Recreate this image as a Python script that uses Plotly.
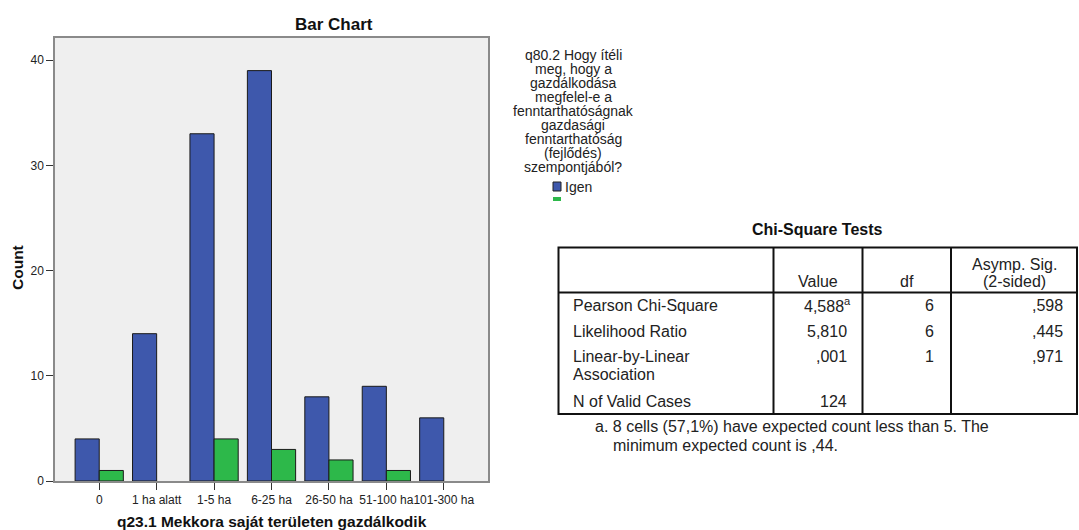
import plotly.graph_objects as go

W, H = 1079, 530

# bar chart data (counts per farm size, split by answer)
categories = ["0", "1 ha alatt", "1-5 ha", "6-25 ha", "26-50 ha", "51-100 ha", "101-300 ha"]
igen = [4, 14, 33, 39, 8, 9, 6]
nem = [1, 0, 4, 3, 2, 1, 0]
y_ticks = [0, 10, 20, 30, 40]

legend_title = ["q80.2 Hogy ítéli", "meg, hogy a", "gazdálkodása", "megfelel-e a",
                "fenntarthatóságnak", "gazdasági", "fenntarthatóság", "(fejlődés)",
                "szempontjából?"]

# chi-square table
table_title = "Chi-Square Tests"
col_headers = ["Value", "df", "Asymp. Sig.<br>(2-sided)"]
test_names = ["Pearson Chi-Square", "Likelihood Ratio", "Linear-by-Linear<br>Association", "N of Valid Cases"]
test_values = ["4,588<sup>a</sup>", "5,810", ",001", "124"]
test_df = ["6", "6", "1", ""]
test_sig = [",598", ",445", ",971", ""]
footnote = ["a. 8 cells (57,1%) have expected count less than 5. The",
            "minimum expected count is ,44."]

BLUE = "#3E58AC"
GREEN = "#2DB84A"
FONT = "Liberation Sans, Arial, sans-serif"


def px(x):
    return x / W


def py(y):
    return 1 - y / H


fig = go.Figure()
fig.add_trace(go.Bar(x=categories, y=igen, name="Igen",
                     marker=dict(color=BLUE, line=dict(color="#1a1a1a",
                                                       width=[1 if v else 0 for v in igen]))))
fig.add_trace(go.Bar(x=categories, y=nem, name="Nem",
                     marker=dict(color=GREEN, line=dict(color="#1a1a1a",
                                                        width=[1 if v else 0 for v in nem]))))

axis_style = dict(showline=True, mirror=True, linecolor="#8a8a8a", linewidth=1.5,
                  ticks="outside", ticklen=7, tickcolor="#333", showgrid=False,
                  zeroline=False, automargin=False, tickfont=dict(size=12, color="#222"))

fig.update_layout(
    width=W, height=H, autosize=False,
    margin=dict(l=0, r=0, t=0, b=0, pad=0),
    paper_bgcolor="white", plot_bgcolor="#EFEFEF",
    barmode="group", bargap=0.16, bargroupgap=0,
    showlegend=False,
    font=dict(family=FONT, size=12, color="#222"),
    xaxis=dict(domain=[px(55), px(488)], range=[-0.77, 6.77], tickangle=0, **axis_style),
    yaxis=dict(domain=[py(481), py(38)], range=[0, 42.1], tickvals=y_ticks, **axis_style),
)

ann = []
# chart titles
ann.append(dict(text="<b>Bar Chart</b>", x=px(334), y=py(25), font=dict(size=17, color="#111")))
ann.append(dict(text="<b>q23.1 Mekkora saját területen gazdálkodik</b>", x=px(272), y=py(521),
                font=dict(size=15.5, color="#111")))
ann.append(dict(text="<b>Count</b>", x=px(17), y=py(268), textangle=-90,
                font=dict(size=15.5, color="#111")))

# legend (cut off in the original)
for i, line in enumerate(legend_title):
    ann.append(dict(text=line, x=px(573), y=py(55 + 14 * i), font=dict(size=14, color="#222")))
ann.append(dict(text="Igen", x=px(563), y=py(187), xanchor="left", font=dict(size=14, color="#222")))

shapes = [
    dict(type="rect", x0=px(553), x1=px(561), y0=py(191), y1=py(182), xref="paper", yref="paper",
         fillcolor=BLUE, line=dict(color="#222", width=1)),
    dict(type="rect", x0=px(553), x1=px(561), y0=py(201), y1=py(197), xref="paper", yref="paper",
         fillcolor=GREEN, line=dict(width=0)),
]

# chi-square table
t_left, t_right, t_top, t_head, t_bottom = 558.5, 1077, 247.5, 292.5, 414
col_x = [773.5, 862.5, 951]
ann.append(dict(text="<b>" + table_title + "</b>", x=px(817), y=py(229), font=dict(size=16, color="#111")))

border = dict(color="#111", width=2)
shapes.append(dict(type="rect", xref="paper", yref="paper", x0=px(t_left), x1=px(t_right),
                   y0=py(t_bottom), y1=py(t_top), line=border))
shapes.append(dict(type="line", xref="paper", yref="paper", x0=px(t_left), x1=px(t_right),
                   y0=py(t_head), y1=py(t_head), line=border))
for cx in col_x:
    shapes.append(dict(type="line", xref="paper", yref="paper", x0=px(cx), x1=px(cx),
                       y0=py(t_bottom), y1=py(t_top), line=border))

# headers centred in their columns
head_centres = [817.5, 906.5, 1014]
for text, hx in zip(col_headers, head_centres):
    lines = text.split("<br>")
    for j, line in enumerate(reversed(lines)):
        ann.append(dict(text=line, x=px(hx), y=py(281.5 - 17.5 * j), font=dict(size=16, color="#222")))

row_y = [305, 331, 356, 401.5]
for name, val, d, sig, ry in zip(test_names, test_values, test_df, test_sig, row_y):
    for j, line in enumerate(name.split("<br>")):
        ann.append(dict(text=line, x=px(571), y=py(ry + 18.5 * j), xanchor="left",
                        font=dict(size=16, color="#222")))
    vx = 852.5 if "<sup>" in val else 848.5
    ann.append(dict(text=val, x=px(vx), y=py(ry), xanchor="right", font=dict(size=16, color="#222")))
    if d:
        ann.append(dict(text=d, x=px(935.5), y=py(ry), xanchor="right", font=dict(size=16, color="#222")))
    if sig:
        ann.append(dict(text=sig, x=px(1065), y=py(ry), xanchor="right", font=dict(size=16, color="#222")))

ann.append(dict(text=footnote[0], x=px(593), y=py(426), xanchor="left", font=dict(size=16, color="#222")))
ann.append(dict(text=footnote[1], x=px(611), y=py(445), xanchor="left", font=dict(size=16, color="#222")))

for a in ann:
    a.setdefault("xref", "paper")
    a.setdefault("yref", "paper")
    a.setdefault("showarrow", False)
    a.setdefault("xanchor", "center")
    a.setdefault("yanchor", "middle")

fig.update_layout(annotations=ann, shapes=shapes)

fig.write_html("out.html", config={"displayModeBar": False},
               post_script="document.body.style.margin='0';")
